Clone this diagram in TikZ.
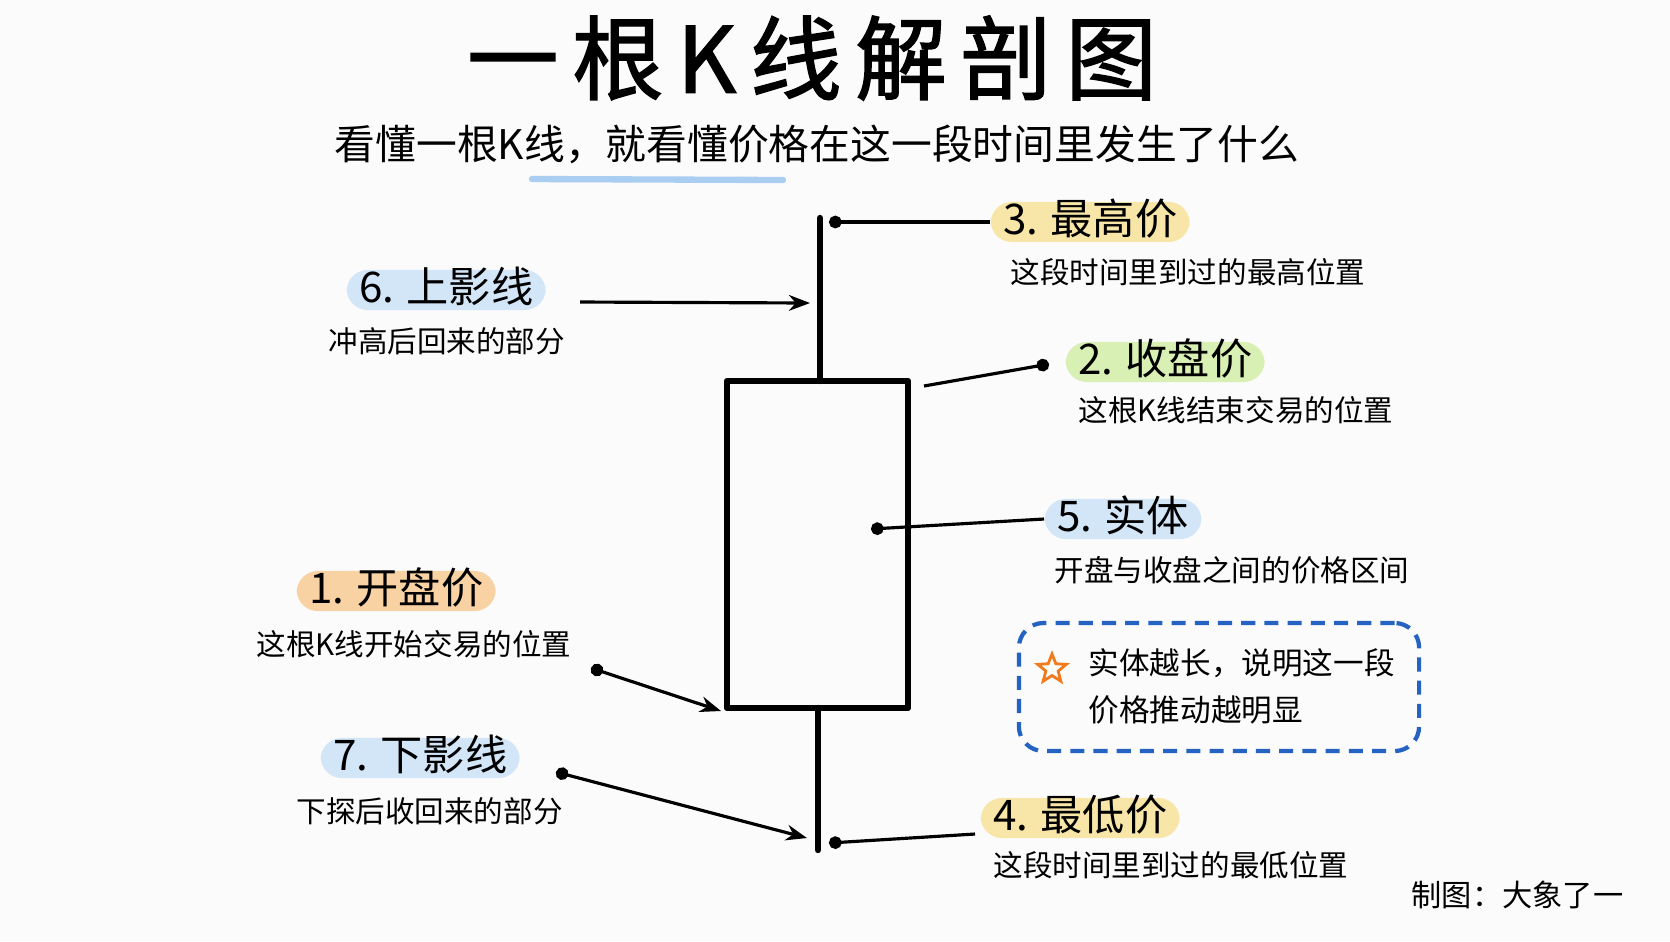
\documentclass[tikz,border=0pt]{standalone}
\usepackage{fontspec}
\setmainfont{Noto Sans CJK SC}
\usepackage{tikz}
\usetikzlibrary{arrows.meta, shapes.geometric}

\definecolor{paper}{HTML}{FBFBFB}
\definecolor{hlyellow}{HTML}{F8E6A8}
\definecolor{hlgreen}{HTML}{D9F0B4}
\definecolor{hlblue}{HTML}{D2E6F8}
\definecolor{hlorange}{HTML}{F9D2A4}
\definecolor{tipblue}{HTML}{2463C2}
\definecolor{starorange}{HTML}{F07A1C}
\definecolor{penblue}{HTML}{A9CEF1}

\newcommand{\labelfont}{\fontsize{12}{14}\selectfont}
\newcommand{\descfont}{\fontsize{8.4}{11}\selectfont}

\begin{document}
\begin{tikzpicture}[x=0.01cm, y=-0.01cm,
    hl/.style={fill=#1, rounded corners=6pt, anchor=west, inner xsep=3.5pt, inner ysep=0.6pt,
      text height=8.6pt, text depth=1.6pt, font=\labelfont},
    desc/.style={anchor=west, inner sep=0pt, font=\descfont},
    stick/.style={line width=1.8pt, line cap=round, line join=round},
    lead/.style={line width=0.9pt, {Circle[length=3.6pt]}-},
    pointer/.style={line width=0.9pt, -{Stealth[length=6pt, width=4.5pt]}},
    dotpointer/.style={line width=0.9pt, {Circle[length=3.6pt]}-{Stealth[length=6pt, width=4.5pt]}}]

    \fill[paper] (0,0) rectangle (1670,941);
    \useasboundingbox (0,0) rectangle (1670,941);

    % title
    \node (title) at (812,58) {\fontsize{26}{30}\selectfont\addfontfeatures{LetterSpace=15, FakeBold=1.6}一根K线解剖图};
    \draw[penblue, line width=1.8pt, line cap=round] (532,179) -- (783,180);
    \node (subtitle) at (817,144) {\fontsize{11.6}{14}\selectfont 看懂一根K线，就看懂价格在这一段时间里发生了什么};

    % candle
    \coordinate (wicktop) at (820,218);
    \coordinate (bodytop) at (820,381);
    \coordinate (bodybot) at (818,708);
    \coordinate (wickbot) at (818,850);
    \draw[stick] (727,381) rectangle (908,708);
    \draw[stick] (wicktop) -- (bodytop);
    \draw[stick] (bodybot) -- (wickbot);

    % right side labels
    \node[hl=hlyellow] (hiL) at (990,222) {3. 最高价};
    \node[desc] (hiD) at (1010,272) {这段时间里到过的最高位置};
    \node[hl=hlgreen] (closeL) at (1065,362) {2. 收盘价};
    \node[desc] (closeD) at (1078,410) {这根K线结束交易的位置};
    \node[hl=hlblue] (bodyL) at (1044,519) {5. 实体};
    \node[desc] (bodyD) at (1054,570) {开盘与收盘之间的价格区间};
    \node[hl=hlyellow] (lowL) at (980,818) {4. 最低价};
    \node[desc] (lowD) at (993,865) {这段时间里到过的最低位置};

    % left side labels
    \node[hl=hlblue] (upL) at (346,290) {6. 上影线};
    \node[desc] (upD) at (328,341) {冲高后回来的部分};
    \node[hl=hlorange] (openL) at (296,591) {1. 开盘价};
    \node[desc] (openD) at (256,644) {这根K线开始交易的位置};
    \node[hl=hlblue] (dnL) at (320,758) {7. 下影线};
    \node[desc] (dnD) at (296,811) {下探后收回来的部分};

    \coordinate (hiP) at (829,222);
    \coordinate (closeP) at (924,386);
    \coordinate (closeE) at (1049,364);
    \coordinate (bodyP) at (871,529);
    \coordinate (lowP) at (829,843);
    \coordinate (lowE) at (975,834);
    \coordinate (upS) at (580,302);
    \coordinate (upE) at (810,303);
    \coordinate (openS) at (591,668);
    \coordinate (openE) at (721,711);
    \coordinate (dnS) at (556,772);
    \coordinate (dnE) at (807,838);

    \draw[lead] (hiP) -- (hiL.west);
    \draw[lead, -{Circle[length=3.6pt]}] (closeP) -- (closeE);
    \draw[lead] (bodyP) -- (bodyL.west);
    \draw[lead] (lowP) -- (lowE);
    \draw[pointer] (upS) -- (upE);
    \draw[dotpointer] (openS) -- (openE);
    \draw[dotpointer] (dnS) -- (dnE);

    % tip box
    \node[draw=tipblue, line width=1.2pt, dash pattern=on 4pt off 2.6pt, rounded corners=7pt,
      minimum width=4cm, minimum height=1.28cm] (tip) at (1219,687) {};
    \node[star, star points=5, star point ratio=2.3, draw=starorange, line width=0.8pt,
      minimum size=0.3cm, inner sep=0pt] (star) at (1052,669) {};
    \node[anchor=west, align=left, inner sep=0pt, font=\fontsize{8.7}{13.3}\selectfont] (tipT) at (1088,686)
      {实体越长，说明这一段\\价格推动越明显};

    \node[anchor=east, inner sep=0pt, font=\fontsize{8.6}{11}\selectfont] (credit) at (1624,895) {制图：大象了一};
\end{tikzpicture}
\end{document}
